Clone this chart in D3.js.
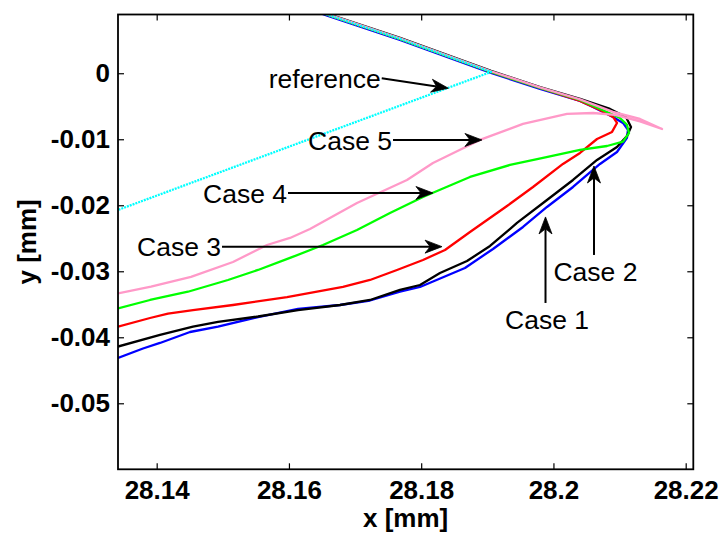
<!DOCTYPE html>
<html><head><meta charset="utf-8">
<script src="https://cdn.jsdelivr.net/npm/d3@7/dist/d3.min.js"></script>
<style>body{margin:0;background:#fff}svg{display:block}</style>
</head><body>
<svg id="chart" width="722" height="537"></svg>
<script>
// ---------- data ----------
const xTicks = [28.14, 28.16, 28.18, 28.2, 28.22];
const xTickLabels = ["28.14", "28.16", "28.18", "28.2", "28.22"];
const yTicks = [0, -0.01, -0.02, -0.03, -0.04, -0.05];
const yTickLabels = ["0", "-0.01", "-0.02", "-0.03", "-0.04", "-0.05"];
const xDomain = [28.13415, 28.22115];
const yDomain = [-0.06, 0.0089];

const case1X = [28.16092, 28.16591, 28.17679, 28.19056, 28.19797, 28.20402, 28.20598, 28.20901, 28.21052, 28.21127, 28.21112, 28.20961, 28.20704, 28.20296, 28.19902, 28.19540, 28.19086, 28.18662, 28.17982, 28.17679, 28.17226, 28.16772, 28.16137, 28.15532, 28.14927, 28.14504, 28.14050, 28.13793, 28.13415];
const case1Y = [0.01050, 0.00868, 0.00505, 0.00005, -0.00238, -0.00420, -0.00511, -0.00662, -0.00753, -0.00859, -0.00980, -0.01193, -0.01374, -0.01723, -0.02026, -0.02329, -0.02662, -0.02950, -0.03238, -0.03309, -0.03443, -0.03511, -0.03571, -0.03693, -0.03840, -0.03920, -0.04086, -0.04170, -0.04314];

const case2X = [28.16092, 28.16591, 28.17679, 28.19056, 28.19797, 28.20402, 28.20855, 28.21097, 28.21173, 28.21112, 28.20961, 28.20659, 28.20296, 28.19902, 28.19449, 28.19041, 28.18693, 28.18284, 28.17982, 28.17679, 28.17226, 28.16772, 28.16137, 28.15532, 28.14927, 28.14549, 28.14050, 28.13415];
const case2Y = [0.01080, 0.00898, 0.00535, 0.00035, -0.00208, -0.00389, -0.00541, -0.00662, -0.00814, -0.00950, -0.01117, -0.01314, -0.01617, -0.01920, -0.02268, -0.02617, -0.02844, -0.03026, -0.03208, -0.03283, -0.03435, -0.03511, -0.03587, -0.03685, -0.03768, -0.03840, -0.03965, -0.04140];

const case3X = [28.16092, 28.16591, 28.17679, 28.19056, 28.19797, 28.20402, 28.20704, 28.20901, 28.20961, 28.20886, 28.20659, 28.20402, 28.20144, 28.19691, 28.19298, 28.18738, 28.18360, 28.18027, 28.17634, 28.17226, 28.16817, 28.15971, 28.15154, 28.14549, 28.14171, 28.13899, 28.13415];
const case3Y = [0.01065, 0.00883, 0.00520, 0.00020, -0.00223, -0.00420, -0.00556, -0.00662, -0.00753, -0.00889, -0.00996, -0.01208, -0.01374, -0.01723, -0.02011, -0.02405, -0.02677, -0.02829, -0.02980, -0.03132, -0.03238, -0.03390, -0.03511, -0.03587, -0.03640, -0.03708, -0.03840];

const case4X = [28.16092, 28.16591, 28.17679, 28.19056, 28.19797, 28.20402, 28.20810, 28.21007, 28.21112, 28.21143, 28.21052, 28.20810, 28.20402, 28.19842, 28.19343, 28.18738, 28.18027, 28.17528, 28.17029, 28.16515, 28.16016, 28.15532, 28.15078, 28.14473, 28.13899, 28.13415];
const case4Y = [0.01065, 0.00883, 0.00520, 0.00020, -0.00223, -0.00405, -0.00586, -0.00677, -0.00783, -0.00905, -0.01036, -0.01102, -0.01162, -0.01283, -0.01389, -0.01571, -0.01874, -0.02117, -0.02374, -0.02602, -0.02798, -0.02980, -0.03132, -0.03310, -0.03435, -0.03564];

const case5X = [28.16092, 28.16591, 28.17679, 28.19056, 28.19797, 28.20402, 28.20901, 28.21309, 28.21642, 28.21309, 28.20931, 28.20598, 28.20205, 28.19540, 28.18889, 28.18178, 28.17785, 28.17029, 28.16318, 28.16016, 28.15668, 28.15154, 28.14519, 28.13914, 28.13415];
const case5Y = [0.01075, 0.00893, 0.00530, 0.00030, -0.00213, -0.00395, -0.00586, -0.00692, -0.00844, -0.00730, -0.00632, -0.00602, -0.00617, -0.00768, -0.01010, -0.01359, -0.01617, -0.01965, -0.02359, -0.02495, -0.02602, -0.02859, -0.03086, -0.03233, -0.03336];

const refX = [28.16092, 28.16591, 28.17679, 28.19056, 28.13415];
const refY = [0.01065, 0.00883, 0.00520, 0.00020, -0.02071];

const seriesNames = ["Case 1", "Case 2", "Case 3", "Case 4", "Case 5", "reference"];
const seriesColors = ["#0000ff", "#000000", "#ff0000", "#00ff00", "#ff99c8", "#00ffff"];

// annotations (arrow start -> arrow tip, data units)
const annLabels = ["reference", "Case 5", "Case 4", "Case 3", "Case 2", "Case 1"];
const annStartX = [28.17403, 28.17574, 28.15986, 28.14988, 28.20613, 28.19880];
const annStartY = [-0.00076, -0.01011, -0.01814, -0.02627, -0.02753, -0.03480];
const annEndX   = [28.18410, 28.18919, 28.18178, 28.18315, 28.20613, 28.19880];
const annEndY   = [-0.00227, -0.01011, -0.01814, -0.02627, -0.01405, -0.02177];

// ---------- layout ----------
const W = 722, H = 537;
const m = {left: 118, top: 14.5, right: 722 - 693.3, bottom: 537 - 469.3};
const iw = W - m.left - m.right, ih = H - m.top - m.bottom;
const font = "'Liberation Sans', Arial, Helvetica, sans-serif";

const svg = d3.select("#chart");
const g = svg.append("g").attr("transform", `translate(${m.left},${m.top})`);
const x = d3.scaleLinear().domain(xDomain).range([0, iw]);
const y = d3.scaleLinear().domain(yDomain).range([ih, 0]);

g.append("defs").append("clipPath").attr("id", "clip")
  .append("rect").attr("width", iw).attr("height", ih);

// curves
const seriesX = [case1X, case2X, case3X, case4X, case5X, refX];
const seriesY = [case1Y, case2Y, case3Y, case4Y, case5Y, refY];
const line = d3.line().x(d => x(d[0])).y(d => y(d[1]));
const curves = g.append("g").attr("clip-path", "url(#clip)");
seriesNames.forEach((name, i) => {
  const pts = seriesX[i].map((v, k) => [v, seriesY[i][k]]);
  curves.append("path").datum(pts)
    .attr("d", line)
    .attr("fill", "none")
    .attr("stroke", seriesColors[i])
    .attr("stroke-width", 2.3)
    .attr("stroke-linejoin", "round")
    .attr("stroke-dasharray", name === "reference" ? "2,1" : null);
});

// axes
const tickLen = 6;
const xAxisB = d3.axisBottom(x).tickValues(xTicks).tickFormat((d, i) => xTickLabels[i])
  .tickSizeInner(-tickLen).tickSizeOuter(0).tickPadding(11);
const xAxisT = d3.axisTop(x).tickValues(xTicks).tickFormat("").tickSizeInner(-tickLen).tickSizeOuter(0);
const yAxisL = d3.axisLeft(y).tickValues(yTicks).tickFormat((d, i) => yTickLabels[i])
  .tickSizeInner(-tickLen).tickSizeOuter(0).tickPadding(8);
const yAxisR = d3.axisRight(y).tickValues(yTicks).tickFormat("").tickSizeInner(-tickLen).tickSizeOuter(0);

function style(sel) {
  sel.selectAll(".domain").remove();
  sel.selectAll(".tick line").attr("stroke", "#000").attr("stroke-width", 1.2);
  sel.selectAll(".tick text").attr("fill", "#000")
    .style("font-family", font).style("font-size", "26px").style("font-weight", "bold");
}
g.append("g").attr("transform", `translate(0,${ih})`).call(xAxisB).call(style);
g.append("g").call(xAxisT).call(style);
g.append("g").call(yAxisL).call(style);
g.append("g").attr("transform", `translate(${iw},0)`).call(yAxisR).call(style);

g.append("rect").attr("width", iw).attr("height", ih)
  .attr("fill", "none").attr("stroke", "#000").attr("stroke-width", 1.8);

// axis labels
svg.append("text").attr("x", m.left + iw / 2).attr("y", 527)
  .attr("text-anchor", "middle")
  .style("font-family", font).style("font-size", "26px").style("font-weight", "bold")
  .text("x [mm]");
svg.append("text").attr("transform", `translate(36,${m.top + ih / 2}) rotate(-90)`)
  .attr("text-anchor", "middle")
  .style("font-family", font).style("font-size", "26px").style("font-weight", "bold")
  .text("y [mm]");

// annotations
const ann = g.append("g");
annLabels.forEach((lab, i) => {
  const x0 = x(annStartX[i]), y0 = y(annStartY[i]);
  const x1 = x(annEndX[i]), y1 = y(annEndY[i]);
  const ang = Math.atan2(y1 - y0, x1 - x0);
  const L = 17, Wd = 6.5, notch = 0.7 * L;
  const ca = Math.cos(ang), sa = Math.sin(ang);
  const P = (u, v) => [x1 + u * ca - v * sa, y1 + u * sa + v * ca];
  const nb = P(-notch, 0);
  ann.append("line").attr("x1", x0).attr("y1", y0).attr("x2", nb[0]).attr("y2", nb[1])
    .attr("stroke", "#000").attr("stroke-width", 2);
  const pts = [P(0, 0), P(-L, -Wd), nb, P(-L, Wd)];
  ann.append("path").attr("d", "M" + pts.map(p => p.join(",")).join("L") + "Z")
    .attr("fill", "#000").attr("stroke", "#000").attr("stroke-width", 0.8).attr("stroke-linejoin", "miter");
  const vertical = Math.abs(x1 - x0) < 1;
  const t = ann.append("text").text(lab)
    .style("font-family", font).style("font-size", "26.5px").attr("fill", "#000");
  if (vertical) {
    t.attr("x", x0 + 1.5).attr("y", y0 + 26.5).attr("text-anchor", "middle");
  } else {
    t.attr("x", x0 - 1).attr("y", y0 + 9.7).attr("text-anchor", "end");
  }
});
</script>
</body></html>
